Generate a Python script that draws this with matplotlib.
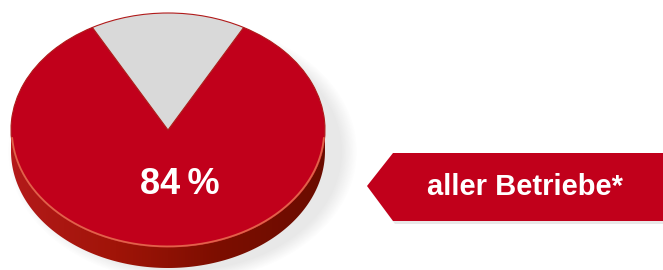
import numpy as np
import matplotlib.pyplot as plt
from matplotlib.colors import LinearSegmentedColormap
from matplotlib.patches import Polygon

# Data
shares = [84, 16]
share_labels = ['84\u2009%', '']
slice_colors = ['#c1001b', '#d9d9d9']
badge_text = 'aller Betriebe*'

W, H = 663, 270
fig = plt.figure(figsize=(W / 100, H / 100), dpi=100)

# background axes in pixel coordinates (for badge + shadow)
bg = fig.add_axes([0, 0, 1, 1])
bg.set_xlim(0, W)
bg.set_ylim(H, 0)
bg.axis('off')

# pie geometry (pixels)
cx, cy, a, b, thick = 168, 130, 157, 117, 21

# soft shadow behind the disc (right side only)
yy, xx = np.mgrid[0:H, 0:W]
d = np.sqrt(((xx - cx - 14) / (a + 2)) ** 2 + ((yy - cy - thick) / (b + 2)) ** 2)
alpha = np.clip((1.1 - d) / 0.1, 0, 1) * 0.16
shadow = np.zeros((H, W, 4))
shadow[..., :3] = 0.45
shadow[..., 3] = alpha
bg.imshow(shadow, extent=(0, W, H, 0), zorder=0)

# badge (arrow shaped label)
badge = Polygon([(367, 186), (393, 153), (W, 153), (W, 221), (393, 221)],
                closed=True, facecolor='#c1001b', edgecolor='none', zorder=2)
shade = Polygon([(369, 189), (395, 224), (W, 224), (W, 221), (393, 221)],
                closed=True, facecolor='#e8e8e8', edgecolor='none', zorder=1)
bg.add_patch(shade)
bg.add_patch(badge)
bg.text(525, 187, badge_text, color='white', fontsize=21, fontweight='bold',
        family='Liberation Sans', ha='center', va='center', zorder=3)

# pie axes: unit circle squashed into an ellipse
tt = thick / b
ax = fig.add_axes([(cx - a) / W, (H - (cy + b + thick)) / H, 2 * a / W, (2 * b + thick) / H])
ax.patch.set_alpha(0)

# side of the disc with horizontal gradient
th = np.linspace(np.pi, 2 * np.pi, 200)
side_pts = np.vstack([np.column_stack([np.cos(th), np.sin(th)]),
                      np.column_stack([np.cos(th[::-1]), np.sin(th[::-1]) - tt])])
side = Polygon(side_pts, closed=True, facecolor='none', edgecolor='none')
ax.add_patch(side)
side_cmap = LinearSegmentedColormap.from_list('side', ['#b41a1a', '#a01408', '#7c0e00', '#6a0c00'])
grad = np.linspace(0, 1, 256).reshape(1, -1)
img = ax.imshow(grad, cmap=side_cmap, extent=(-1, 1, -1 - tt, 0), aspect='auto', zorder=1)
img.set_clip_path(side)

wedges, _ = ax.pie(shares, colors=slice_colors, startangle=90 + shares[1] * 1.8,
                   counterclock=True, radius=1,
                   wedgeprops=dict(edgecolor='#b01a1a', linewidth=0.8))
for w in wedges:
    w.set_zorder(2)

# highlight along the front rim
hl = np.linspace(np.radians(184), np.radians(356), 200)
ax.plot(0.995 * np.cos(hl), 0.995 * np.sin(hl), color='#e2614a', lw=1.3, zorder=3)

ax.text((180 - cx) / a, (cy - 185) / b, share_labels[0], color='white', fontsize=26,
        fontweight='bold', family='Liberation Sans', ha='center', va='center', zorder=4)

ax.set_aspect('auto')
ax.set_xlim(-1, 1)
ax.set_ylim(-1 - tt, 1)
ax.axis('off')

fig.savefig('out.png', dpi=100)
